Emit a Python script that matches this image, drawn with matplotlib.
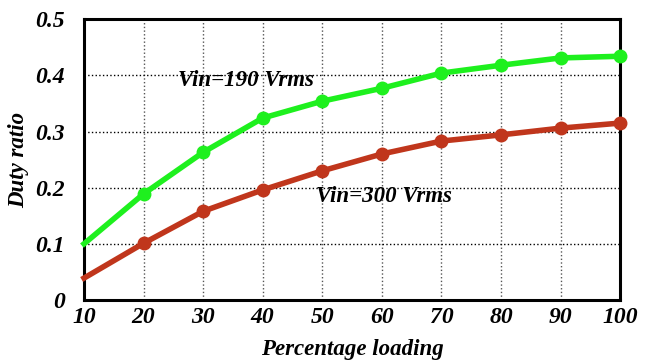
import matplotlib.pyplot as plt

loading = [10, 20, 30, 40, 50, 60, 70, 80, 90, 100]
duty_190 = [0.100, 0.189, 0.263, 0.324, 0.354, 0.377, 0.404, 0.418, 0.431, 0.434]
duty_300 = [0.039, 0.101, 0.158, 0.196, 0.230, 0.260, 0.283, 0.294, 0.306, 0.315]
x_ticks = [10, 20, 30, 40, 50, 60, 70, 80, 90, 100]
y_ticks = [0, 0.1, 0.2, 0.3, 0.4, 0.5]
y_tick_labels = ['0', '0.1', '0.2', '0.3', '0.4', '0.5']


def main():
    plt.rcParams['font.family'] = ['Liberation Serif', 'DejaVu Serif']
    font = dict(weight='bold', style='italic')

    fig = plt.figure(figsize=(6.59, 3.6), dpi=100)
    ax = fig.add_axes([0.1275, 0.1667, 0.8135, 0.78])

    green = '#1ef01e'
    red = '#c0361c'
    ax.plot(loading, duty_190, color=green, lw=4, marker='o', ms=9,
            markevery=list(range(1, len(loading))), zorder=3, clip_on=False)
    ax.plot(loading, duty_300, color=red, lw=4, marker='o', ms=9,
            markevery=list(range(1, len(loading))), zorder=3, clip_on=False)

    ax.set_xlim(10, 100)
    ax.set_ylim(0, 0.5)
    ax.set_xticks(x_ticks)
    ax.set_yticks(y_ticks)
    ax.set_xticklabels([str(t) for t in x_ticks], fontsize=17, **font)
    ax.set_yticklabels(y_tick_labels, fontsize=17, **font)
    ax.tick_params(axis='y', length=0, pad=14)
    ax.tick_params(axis='x', length=0, pad=5)
    ax.grid(True, axis='y', color='black', linestyle=':', linewidth=1.0)
    ax.grid(True, axis='x', color='#555555', linestyle=':', linewidth=1.0)

    for s in ax.spines.values():
        s.set_linewidth(2.2)
        s.set_color('black')

    ax.text(25.8, 0.391, 'Vin=190 Vrms', fontsize=16.5, va='center', **font)
    ax.text(49.0, 0.185, 'Vin=300 Vrms', fontsize=16.5, va='center', **font)

    ax.set_xlabel('Percentage loading', fontsize=16.5, labelpad=8, **font)
    ax.set_ylabel('Duty ratio', fontsize=16.5, labelpad=4, **font)

    fig.savefig('out.png', dpi=100)


if __name__ == "__main__":
    main()
